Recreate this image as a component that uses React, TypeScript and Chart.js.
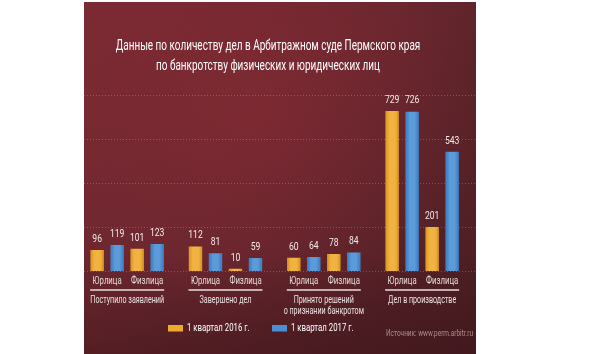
import { useEffect, useRef } from 'react';
import { Chart, registerables } from 'chart.js';

Chart.register(...registerables);

// ---- data ----
const groupLabels: string[][] = [
  ['Поступило заявлений'],
  ['Завершено дел'],
  ['Принято решений', 'о признании банкротом'],
  ['Дел в производстве'],
];
const subLabels = ['Юрлица', 'Физлица'];
const seriesLabels = ['1 квартал 2016 г.', '1 квартал 2017 г.'];
const jur2016 = [96, 112, 60, 729];
const jur2017 = [119, 81, 64, 726];
const phys2016 = [101, 10, 78, 201];
const phys2017 = [123, 59, 84, 543];
const yTicks = [0, 200, 400, 600, 800];
const titleLines = [
  'Данные по количеству дел в Арбитражном суде Пермского края',
  'по банкротству физических и юридических лиц',
];
const sourceText = 'Источник: www.perm.arbitr.ru';

// ---- styles ----
const ORANGE = '#eeaa2e';
const BLUE = '#4a8fd5';
const PANEL = { x: 84, y: 2, w: 392, h: 352 };
const FONT = 'Roboto, "Liberation Sans", "DejaVu Sans", sans-serif';

function txt(
  ctx: CanvasRenderingContext2D,
  s: string,
  x: number,
  y: number,
  size: number,
  color: string,
  align: CanvasTextAlign = 'center',
  sx = 0.8,
  weight = 'normal'
) {
  ctx.save();
  ctx.font = `${weight} ${size}px ${FONT}`;
  ctx.fillStyle = color;
  ctx.textAlign = align;
  ctx.textBaseline = 'middle';
  ctx.translate(x, y);
  ctx.scale(sx, 1);
  ctx.fillText(s, 0, 0);
  ctx.restore();
}

const decorPlugin = {
  id: 'decor',
  beforeDraw(chart: any) {
    const ctx: CanvasRenderingContext2D = chart.ctx;
    ctx.save();
    ctx.fillStyle = '#ffffff';
    ctx.fillRect(0, 0, chart.width, chart.height);
    const { x, y, w, h } = PANEL;
    const g = ctx.createLinearGradient(x, y, x + w, y + h);
    g.addColorStop(0, '#7a2a33');
    g.addColorStop(0.45, '#68262e');
    g.addColorStop(1, '#461d22');
    ctx.fillStyle = g;
    ctx.fillRect(x, y, w, h);
    // lighter diagonal glow
    const r = ctx.createRadialGradient(x + 170, y + 110, 10, x + 170, y + 110, 230);
    r.addColorStop(0, 'rgba(145,44,54,0.45)');
    r.addColorStop(1, 'rgba(145,44,54,0)');
    ctx.fillStyle = r;
    ctx.fillRect(x, y, w, h);
    // darker bottom
    const b = ctx.createLinearGradient(0, y + 250, 0, y + h);
    b.addColorStop(0, 'rgba(60,20,25,0)');
    b.addColorStop(1, 'rgba(60,20,25,0.45)');
    ctx.fillStyle = b;
    ctx.fillRect(x, y, w, h);

    // dotted grid lines across the panel
    const ys = chart.scales.y;
    ctx.strokeStyle = 'rgba(255,220,220,0.25)';
    ctx.lineWidth = 1;
    ctx.setLineDash([1, 2]);
    yTicks.forEach((v) => {
      const py = Math.round(ys.getPixelForValue(v)) + 0.5;
      ctx.beginPath();
      ctx.moveTo(x, py);
      ctx.lineTo(x + w, py);
      ctx.stroke();
    });
    ctx.restore();
  },
  afterDatasetsDraw(chart: any) {
    const ctx: CanvasRenderingContext2D = chart.ctx;
    const metas = [0, 1, 2, 3].map((i) => chart.getDatasetMeta(i));
    const ys = chart.scales.y;
    const zeroY = ys.getPixelForValue(0);

    // bar shading + value labels
    metas.forEach((m: any, di: number) => {
      const vals = chart.data.datasets[di].data as number[];
      m.data.forEach((el: any, j: number) => {
        const p = el.getProps(['x', 'y', 'width', 'base'], true);
        ctx.save();
        ctx.fillStyle = 'rgba(255,255,255,0.10)';
        ctx.fillRect(p.x - p.width * 0.25, p.y, p.width * 0.5, p.base - p.y);
        ctx.fillStyle = 'rgba(0,0,0,0.08)';
        ctx.fillRect(p.x - p.width / 2, p.y, 2, p.base - p.y);
        ctx.fillRect(p.x + p.width / 2 - 2, p.y, 2, p.base - p.y);
        ctx.restore();
        txt(ctx, String(vals[j]), p.x, p.y - 11, 11, '#f3eaea', 'center', 0.78);
      });
    });

    // sub labels, underline, group labels
    for (let j = 0; j < groupLabels.length; j++) {
      const pairs = [
        [metas[0].data[j], metas[1].data[j]],
        [metas[2].data[j], metas[3].data[j]],
      ];
      const centers = pairs.map(([a, b]: any) => (a.x + b.x) / 2);
      centers.forEach((cx, k) =>
        txt(ctx, subLabels[k], cx, zeroY + 10, 10.5, '#e6dada', 'center', 0.74)
      );
      const gc = (centers[0] + centers[1]) / 2;
      ctx.save();
      ctx.strokeStyle = 'rgba(215,200,200,0.85)';
      ctx.lineWidth = 2;
      ctx.beginPath();
      ctx.moveTo(gc - 37, zeroY + 19);
      ctx.lineTo(gc + 37, zeroY + 19);
      ctx.stroke();
      ctx.restore();
      groupLabels[j].forEach((line, li) =>
        txt(ctx, line, gc, zeroY + 29 + li * 11.5, 10.5, '#ece2e2', 'center', 0.68)
      );
    }

    // title
    ctx.save();
    ctx.font = `normal 14px ${FONT}`;
    const w2 = ctx.measureText(titleLines[1]).width;
    ctx.restore();
    const tsx = 224 / w2;
    txt(ctx, titleLines[0], 268, 46.5, 14, '#ffffff', 'center', tsx);
    txt(ctx, titleLines[1], 268, 66, 14, '#ffffff', 'center', tsx);

    // legend
    const legendX = [168, 272];
    const cols = [ORANGE, BLUE];
    seriesLabels.forEach((s, i) => {
      ctx.save();
      ctx.fillStyle = cols[i];
      ctx.fillRect(legendX[i], 325, 15, 6.5);
      ctx.restore();
      txt(ctx, s, legendX[i] + 19, 328, 11.5, '#ffffff', 'left', 0.68);
    });

    // source
    txt(ctx, sourceText, 473, 333.5, 9.5, 'rgba(190,160,160,0.85)', 'right', 0.68);
  },
};

export default function App() {
  const ref = useRef<HTMLCanvasElement>(null);
  useEffect(() => {
    if (!ref.current) return;
    const chart = new Chart(ref.current, {
      type: 'bar',
      data: {
        labels: groupLabels.map((g) => g.join(' ')),
        datasets: [
          { label: seriesLabels[0] + ' (Юрлица)', data: jur2016, backgroundColor: ORANGE },
          { label: seriesLabels[1] + ' (Юрлица)', data: jur2017, backgroundColor: BLUE },
          { label: seriesLabels[0] + ' (Физлица)', data: phys2016, backgroundColor: ORANGE },
          { label: seriesLabels[1] + ' (Физлица)', data: phys2017, backgroundColor: BLUE },
        ],
      },
      options: {
        responsive: false,
        animation: false,
        devicePixelRatio: 1,
        layout: { padding: { left: 78, right: 118.7, top: 95.4, bottom: 83 } },
        datasets: { bar: { barPercentage: 0.67, categoryPercentage: 0.814 } },
        scales: {
          x: { display: false },
          y: { display: false, min: 0, max: 800 },
        },
        plugins: {
          legend: { display: false },
          title: { display: false },
          tooltip: { enabled: false },
        },
      },
      plugins: [decorPlugin],
    });
    return () => chart.destroy();
  }, []);
  return (
    <div style={{ position: 'fixed', left: 0, top: 0, width: 590, height: 354 }}>
      <canvas ref={ref} width={590} height={354} style={{ width: 590, height: 354, display: 'block' }} />
    </div>
  );
}
